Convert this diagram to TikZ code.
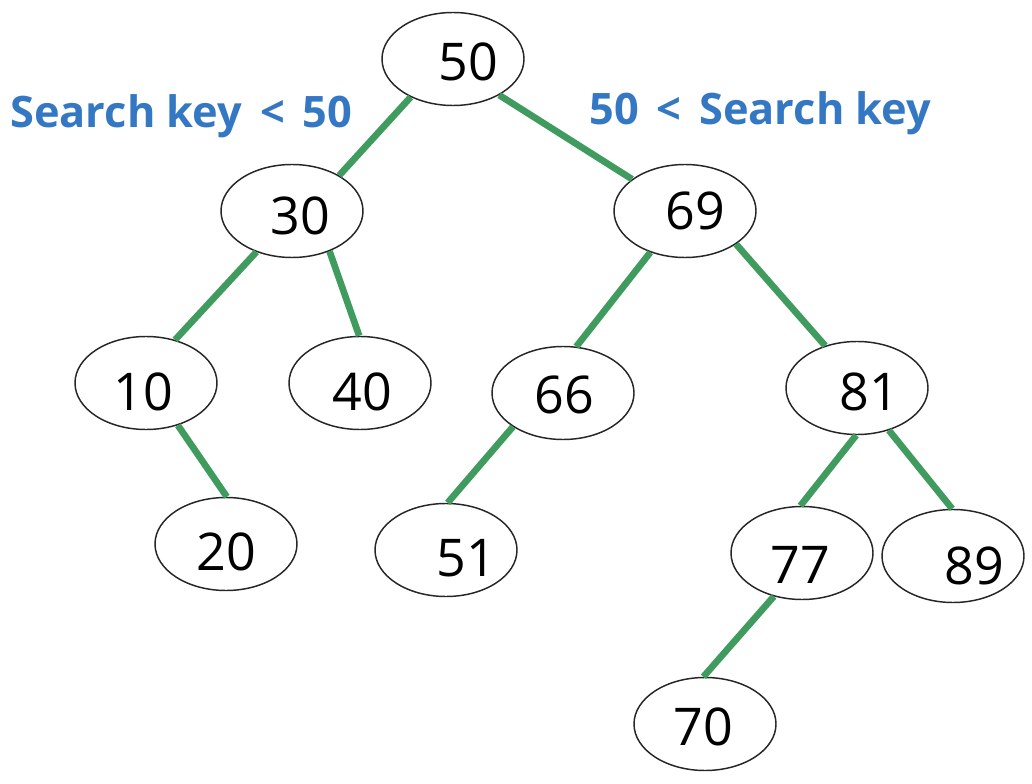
\documentclass[tikz,border=0pt]{standalone}
\usepackage{fontspec}
\setmainfont{Open Sans}
\usetikzlibrary{shapes.geometric}
\definecolor{edgegreen}{RGB}{64,155,95}
\definecolor{keyblue}{RGB}{52,120,196}
\tikzset{
  el/.style={ellipse, draw=black!85, line width=1.1pt, minimum width=106.5pt, minimum height=69.75pt, inner sep=0pt, fill=white},
  num/.style={inner sep=0pt, font=\fontsize{39}{40}\selectfont, text=black},
  link/.style={draw=edgegreen, line width=5pt},
  keylab/.style={inner sep=0pt, anchor=base west, text=keyblue, font=\fontsize{32.5}{34}\selectfont\bfseries}
}
\begin{document}
\begin{tikzpicture}[x=0.75pt, y=-0.75pt]
\useasboundingbox[fill=white] (0,0) rectangle (1032,784);
% nodes
\node[el, label={[num, xshift=11.25pt, yshift=-2.25pt]center:50}] (n50) at (453,59) {};
\node[el, label={[num, xshift=6pt, yshift=-3.75pt]center:30}] (n30) at (292,211) {};
\node[el, label={[num, xshift=7.5pt, yshift=0pt]center:69}] (n69) at (685,211) {};
\node[el, label={[num, xshift=-2.25pt, yshift=-6.75pt]center:10}] (n10) at (146,383) {};
\node[el, label={[num, xshift=1.5pt, yshift=-6.75pt]center:40}] (n40) at (360,383) {};
\node[el, label={[num, xshift=0.75pt, yshift=-1.5pt]center:66}] (n66) at (563,393) {};
\node[el, label={[num, xshift=9pt, yshift=-3pt]center:81}] (n81) at (857,388) {};
\node[el, label={[num, xshift=0pt, yshift=-6pt]center:20}] (n20) at (226,544) {};
\node[el, label={[num, xshift=15pt, yshift=-6pt]center:51}] (n51) at (446,550) {};
\node[el, label={[num, xshift=-1.5pt, yshift=-9pt]center:77}] (n77) at (802,553) {};
\node[el, label={[num, xshift=15.75pt, yshift=-7.5pt]center:89}] (n89) at (953,556) {};
\node[el, label={[num, xshift=-1.5pt, yshift=-2.25pt]center:70}] (n70) at (705,724) {};
% edges
\draw[link] (n50.222) -- (n30.37);
\draw[link] (n50.322) -- (n69.149);
\draw[link] (n30.229) -- (n10.56);
\draw[link] (n30.313) -- (n40.91);
\draw[link] (n10.307) -- (n20.89);
\draw[link] (n69.230) -- (n66.74);
\draw[link] (n69.327) -- (n81.127);
\draw[link] (n66.214) -- (n51.88);
\draw[link] (n81.269) -- (n77.92);
\draw[link] (n81.307) -- (n89.91);
\draw[link] (n77.237) -- (n70.92);
% labels
\node[keylab] (kleft) at (10,128) {Search key\hspace{5pt} < \hspace{5pt}50};
\node[keylab] (kright) at (589,125) {50\hspace{5pt} < \hspace{5pt}Search key};
\end{tikzpicture}
\end{document}
